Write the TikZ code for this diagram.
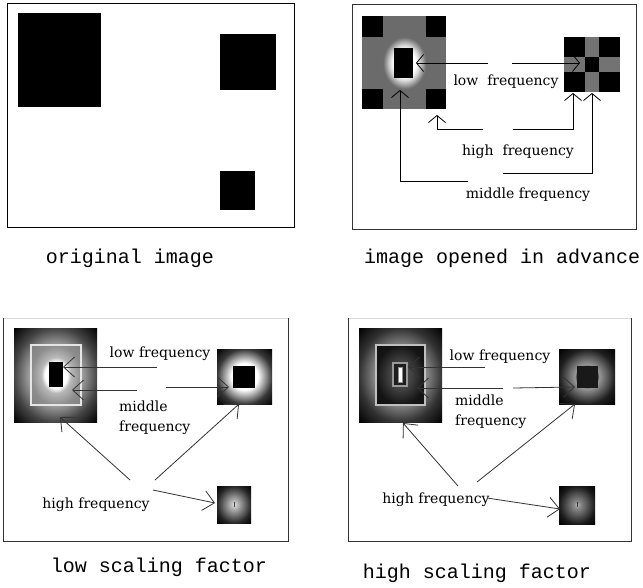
\documentclass[tikz,border=0pt]{standalone}
\usepackage{fontspec}
\setmainfont{DejaVu Serif}
\newfontfamily\capfont{Liberation Mono}
\usetikzlibrary{arrows.meta}
\pgfdeclareradialshading{ptwoglow}{\pgfpoint{0bp}{0bp}}{rgb(0bp)=(1,1,1); rgb(13bp)=(1,1,1); rgb(17bp)=(.85,.85,.85); rgb(25bp)=(.42,.42,.42); rgb(50bp)=(.42,.42,.42)}
\pgfdeclareradialshading{pthreeout}{\pgfpoint{0bp}{0bp}}{rgb(0bp)=(.8,.8,.8); rgb(15bp)=(.66,.66,.66); rgb(25bp)=(.27,.27,.27); rgb(35.4bp)=(0,0,0); rgb(50bp)=(0,0,0)}
\pgfdeclareradialshading{pthreein}{\pgfpoint{0bp}{0bp}}{rgb(0bp)=(1,1,1); rgb(11bp)=(1,1,1); rgb(15bp)=(.72,.72,.72); rgb(25bp)=(.55,.55,.55); rgb(36bp)=(.5,.5,.5); rgb(50bp)=(.5,.5,.5)}
\pgfdeclareradialshading{pthreer}{\pgfpoint{0bp}{0bp}}{rgb(0bp)=(1,1,1); rgb(12bp)=(1,1,1); rgb(25bp)=(.22,.22,.22); rgb(35.4bp)=(0,0,0); rgb(50bp)=(0,0,0)}
\pgfdeclareradialshading{pthrees}{\pgfpoint{0bp}{0bp}}{rgb(0bp)=(.9,.9,.9); rgb(4bp)=(.75,.75,.75); rgb(25bp)=(.15,.15,.15); rgb(35.4bp)=(0,0,0); rgb(50bp)=(0,0,0)}
\pgfdeclareradialshading{pfourout}{\pgfpoint{0bp}{0bp}}{rgb(0bp)=(.6,.6,.6); rgb(15bp)=(.55,.55,.55); rgb(25bp)=(.2,.2,.2); rgb(35.4bp)=(0,0,0); rgb(50bp)=(0,0,0)}
\pgfdeclareradialshading{pfourin}{\pgfpoint{0bp}{0bp}}{rgb(0bp)=(.35,.35,.35); rgb(12bp)=(.25,.25,.25); rgb(25bp)=(.08,.08,.08); rgb(50bp)=(.05,.05,.05)}
\pgfdeclareradialshading{pfourr}{\pgfpoint{0bp}{0bp}}{rgb(0bp)=(.1,.1,.1); rgb(9bp)=(.08,.08,.08); rgb(10.5bp)=(.6,.6,.6); rgb(25bp)=(.12,.12,.12); rgb(35.4bp)=(0,0,0); rgb(50bp)=(0,0,0)}
\pgfdeclareradialshading{pfours}{\pgfpoint{0bp}{0bp}}{rgb(0bp)=(.75,.75,.75); rgb(4bp)=(.55,.55,.55); rgb(25bp)=(.1,.1,.1); rgb(35.4bp)=(0,0,0); rgb(50bp)=(0,0,0)}
\begin{document}
\begin{tikzpicture}[x=1pt,y=-1pt,
  frame/.style={draw=black!80,line width=0.9pt},
  lbl/.style={inner sep=0pt,font=\fontsize{14}{20}\selectfont},
  captxt/.style={inner sep=0pt,font=\capfont\fontsize{20}{22}\selectfont},
  arrA/.style={draw=black,line width=0.8pt,-{Straight Barb[length=7pt,width=17pt]}},
  arrB/.style={draw=black!80,line width=0.8pt,-{Straight Barb[length=11pt,width=20pt]}}]
\useasboundingbox (0,0) rectangle (643,587);
\fill[white] (0,0) rectangle (643,587);

% ---------- panel 1: original image
\draw[frame,draw=black] (7,3) rectangle (294,227);
\fill[black] (18,13) rectangle (101,107);
\fill[black] (220,34) rectangle (276,90);
\fill[black] (220,171) rectangle (255,210);
\node[captxt] (c1) at (130,258) {original image};

% ---------- panel 2: image opened in advance
\draw[frame] (352,4) rectangle (636,229);
\fill[black!58] (362,16) rectangle (446,109);
\fill[black] (362,16) rectangle (383,37);
\fill[black] (426,16) rectangle (446,37);
\fill[black] (362,89) rectangle (383,109);
\fill[black] (426,89) rectangle (446,109);
\shade[shading=ptwoglow] (383,37) rectangle (426,89);
\fill[black] (394,48) rectangle (413,78);
% checkerboard
\fill[black!55] (564,37) rectangle (620,92);
\fill[black] (564,37) rectangle (585,57);
\fill[black] (599,37) rectangle (620,57);
\fill[black] (585,57) rectangle (599,72);
\fill[black] (564,72) rectangle (585,92);
\fill[black] (599,72) rectangle (620,92);

\node[lbl] (lf2) at (506,82) {low\ \ frequency};
\node[lbl] (hf2) at (518,152) {high\ \ frequency};
\node[lbl] (mf2) at (528,195) {middle frequency};

\coordinate (l2a) at (488,63); \coordinate (l2b) at (416,63);
\coordinate (l2c) at (512,63); \coordinate (l2d) at (580,63);
\draw[arrA] (l2a) -- (l2b);
\draw[arrA] (l2c) -- (l2d);
\coordinate (h2a) at (483,129); \coordinate (h2b) at (437,129); \coordinate (h2c) at (437,115);
\coordinate (h2d) at (513,129); \coordinate (h2e) at (573,129); \coordinate (h2f) at (573,93);
\draw[arrA] (h2a) -- (h2b) -- (h2c);
\draw[arrA] (h2d) -- (h2e) -- (h2f);
\coordinate (m2a) at (468,181); \coordinate (m2b) at (400,181); \coordinate (m2c) at (400,90);
\coordinate (m2d) at (503,173); \coordinate (m2e) at (592,173); \coordinate (m2f) at (592,93);
\draw[arrA] (m2a) -- (m2b) -- (m2c);
\draw[arrA] (m2d) -- (m2e) -- (m2f);
\node[captxt,anchor=west] (c2) at (364,258) {image opened in advance};

% ---------- panel 3: low scaling factor
\draw[draw=black!15,line width=0.6pt] (3,318) -- (288,318);
\draw[frame] (3,318) -- (3,541) -- (288,541) -- (288,318);
\shade[shading=pthreeout] (14,328) rectangle (97,422);
\shade[shading=pthreein] (31,345) rectangle (81,405);
\draw[black!10,line width=1.2pt] (31,345) rectangle (81,405);
\fill[black] (49,362) rectangle (63,387);
\shade[shading=pthreer] (217,349) rectangle (272,404);
\fill[black] (233,366) rectangle (255,388);
\shade[shading=pthrees] (217,486) rectangle (251,523);
\fill[black!75] (233.6,502) rectangle (234.6,507);

\node[lbl] (lf3) at (160,354) {low frequency};
\node[lbl,anchor=west,align=left] (mf3) at (119,418) {middle\\frequency};
\node[lbl] (hf3) at (96,505) {high frequency};

\coordinate (l3a) at (157,367); \coordinate (l3b) at (63,367);
\coordinate (m3a) at (137,390); \coordinate (m3b) at (72,390);
\coordinate (m3c) at (166,387); \coordinate (m3d) at (229,387);
\coordinate (h3a) at (130,480); \coordinate (h3b) at (60,417);
\coordinate (h3c) at (155,480); \coordinate (h3d) at (239,404);
\coordinate (h3e) at (153,490); \coordinate (h3f) at (215,503);
\draw[arrB] (l3a) -- (l3b);
\draw[arrB] (m3a) -- (m3b);
\draw[arrB] (m3c) -- (m3d);
\draw[arrB] (h3a) -- (h3b);
\draw[arrB] (h3c) -- (h3d);
\draw[arrB] (h3e) -- (h3f);
\node[captxt] (c3) at (159,567) {low scaling factor};

% ---------- panel 4: high scaling factor
\draw[draw=black!15,line width=0.6pt] (348,318) -- (631,318);
\draw[frame] (348,318) -- (348,541) -- (631,541) -- (631,318);
\shade[shading=pfourout] (359,328) rectangle (442,422);
\shade[shading=pfourin] (376,345) rectangle (425,405);
\draw[black!25,line width=1.2pt] (376,345) rectangle (425,405);
\fill[black!40] (392,362) rectangle (408,387);
\fill[black!88] (394,364) rectangle (406,385);
\fill[black!45] (398,367) rectangle (403,383);
\fill[white] (399,368) rectangle (402,382);
\shade[shading=pfourr] (559,349) rectangle (615,404);
\fill[black!90] (577,366) rectangle (598,388);
\shade[shading=pfours] (559,486) rectangle (595,524);
\fill[black!80] (576.6,502) rectangle (577.6,507);

\node[lbl] (lf4) at (500,357) {low frequency};
\node[lbl,anchor=west,align=left] (mf4) at (455,411.5) {middle\\frequency};
\node[lbl] (hf4) at (436,500) {high frequency};

\coordinate (l4a) at (485,367); \coordinate (l4b) at (408,367);
\coordinate (m4a) at (503,388); \coordinate (m4b) at (417,388);
\coordinate (m4c) at (513,388); \coordinate (m4d) at (575,387);
\coordinate (h4a) at (458,486); \coordinate (h4b) at (403,423);
\coordinate (h4c) at (477,482); \coordinate (h4d) at (575,404);
\coordinate (h4e) at (487,498); \coordinate (h4f) at (560,509);
\draw[arrB] (l4a) -- (l4b);
\draw[arrB] (m4a) -- (m4b);
\draw[arrB] (m4c) -- (m4d);
\draw[arrB] (h4a) -- (h4b);
\draw[arrB] (h4c) -- (h4d);
\draw[arrB] (h4e) -- (h4f);
\node[captxt] (c4) at (477,573) {high scaling factor};
\end{tikzpicture}
\end{document}
